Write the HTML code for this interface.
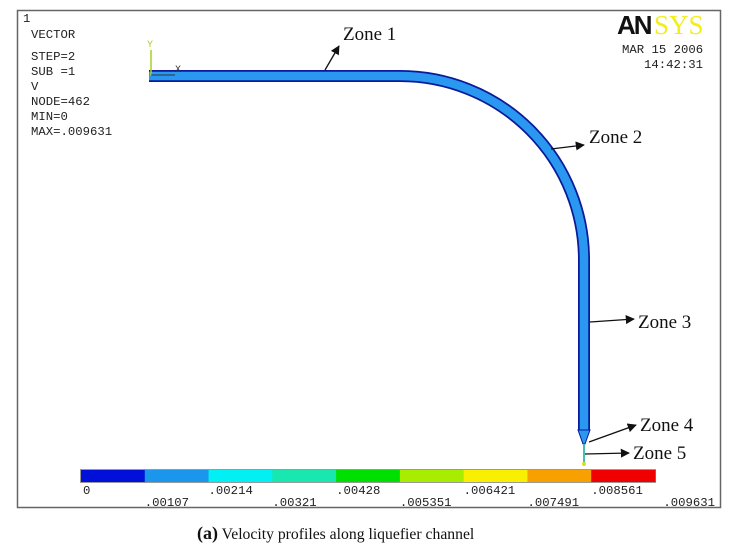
<!DOCTYPE html>
<html><head><meta charset="utf-8"><style>
html,body{margin:0;padding:0;background:#fff;width:742px;height:550px;overflow:hidden}
svg{display:block}
.m{font-family:"Liberation Mono",monospace;font-size:12.3px;fill:#222}
.z{font-family:"Liberation Serif",serif;font-size:19px;fill:#111}
</style></head><body>
<svg width="742" height="550" viewBox="0 0 742 550">
<defs><marker id="ah" viewBox="0 0 10 10" refX="9" refY="5" markerWidth="7" markerHeight="7" orient="auto"><path d="M0,0L10,5L0,10z" fill="#111"/></marker></defs>
<rect x="17.5" y="10.5" width="703" height="497" fill="#fff" stroke="#666" stroke-width="1.5"/>
<g>
<text class="m" x="23" y="22">1</text>
<text class="m" x="31" y="38">VECTOR</text>
<text class="m" x="31" y="60">STEP=2</text>
<text class="m" x="31" y="75">SUB =1</text>
<text class="m" x="31" y="90">V</text>
<text class="m" x="31" y="105">NODE=462</text>
<text class="m" x="31" y="120">MIN=0</text>
<text class="m" x="31" y="135">MAX=.009631</text>
</g>
<g>
<text x="617" y="34" font-family="Liberation Sans,sans-serif" font-weight="bold" font-size="26" fill="#111" letter-spacing="-2">AN</text>
<text x="654" y="34" font-family="Liberation Serif,serif" font-size="27" fill="#f2ee1a">SYS</text>
<text class="m" x="622" y="53">MAR 15 2006</text>
<text class="m" x="644" y="68">14:42:31</text>
</g>
<g>
<path d="M149,76 L400,76 A184,184 0 0 1 584,260 L584,430" fill="none" stroke="#0a1a9a" stroke-width="12"/>
<path d="M149,76 L400,76 A184,184 0 0 1 584,260 L584,430" fill="none" stroke="#2a98f0" stroke-width="8.5"/>
<path d="M578,430 L590,430 L585,444 L583,444 Z" fill="#2a98f0" stroke="#0a1a9a" stroke-width="1"/>
<line x1="584" y1="444" x2="584" y2="466" stroke="#44c0b0" stroke-width="2"/>
<circle cx="584" cy="464" r="2" fill="#d8e020"/>
</g>
<g>
<line x1="151" y1="76" x2="151" y2="50" stroke="#a8d020" stroke-width="1.5"/>
<line x1="151" y1="75" x2="175" y2="75" stroke="#333" stroke-width="1"/>
<text x="147" y="47" font-family="Liberation Mono,monospace" font-size="10" fill="#a8d020">Y</text>
<text x="175" y="72" font-family="Liberation Mono,monospace" font-size="10" fill="#333">X</text>
</g>
<g>
<line x1="325" y1="70" x2="339" y2="46" stroke="#111" stroke-width="1.3" marker-end="url(#ah)"/>
<text class="z" x="343" y="40">Zone 1</text>
<line x1="551" y1="149" x2="584" y2="145" stroke="#111" stroke-width="1.3" marker-end="url(#ah)"/>
<text class="z" x="589" y="143">Zone 2</text>
<line x1="590" y1="322" x2="634" y2="319" stroke="#111" stroke-width="1.3" marker-end="url(#ah)"/>
<text class="z" x="638" y="328">Zone 3</text>
<line x1="589" y1="442" x2="636" y2="425" stroke="#111" stroke-width="1.3" marker-end="url(#ah)"/>
<text class="z" x="640" y="431">Zone 4</text>
<line x1="585" y1="454" x2="629" y2="453" stroke="#111" stroke-width="1.3" marker-end="url(#ah)"/>
<text class="z" x="633" y="459">Zone 5</text>
</g>
<g id="legend"></g>
<text x="197" y="539" font-family="Liberation Serif,serif" font-size="15.7" fill="#111"><tspan font-weight="bold" font-size="18">(a)</tspan> Velocity profiles along liquefier channel</text>
</svg>
<script>
const legendColors=["#0010d8","#1a96ec","#00f0f4","#18e8b0","#00e000","#a8ec00","#f8f000","#f8a000","#f00000"];
const legendTicks=["0",".00107",".00214",".00321",".00428",".005351",".006421",".007491",".008561",".009631"];
const g=document.getElementById('legend');
const NS="http://www.w3.org/2000/svg";
const x0=81,x1=655,w=(x1-x0)/legendColors.length;
const bg=document.createElementNS(NS,'rect');
bg.setAttribute('x',x0-1);bg.setAttribute('y',469);bg.setAttribute('width',x1-x0+2);bg.setAttribute('height',14);bg.setAttribute('fill','#999');


g.appendChild(bg);
legendColors.forEach((c,i)=>{
 const r=document.createElementNS(NS,'rect');
 r.setAttribute('x',x0+i*w);r.setAttribute('y',470);r.setAttribute('width',w+0.5);r.setAttribute('height',12);r.setAttribute('fill',c);
 
 
 g.appendChild(r);
});
legendTicks.forEach((t,i)=>{
 const tx=document.createElementNS(NS,'text');
 const x=x0+i*w;
 tx.setAttribute('x',i===0?x+2:x);tx.setAttribute('y',i%2===0?494:506);
 tx.setAttribute('class','m');
 tx.setAttribute('text-anchor',i===legendTicks.length-1?'end':'start');
 if(i===legendTicks.length-1)tx.setAttribute('x',x+60);
 tx.textContent=t;
 
 
 g.appendChild(tx);
});
</script>
</body></html>
